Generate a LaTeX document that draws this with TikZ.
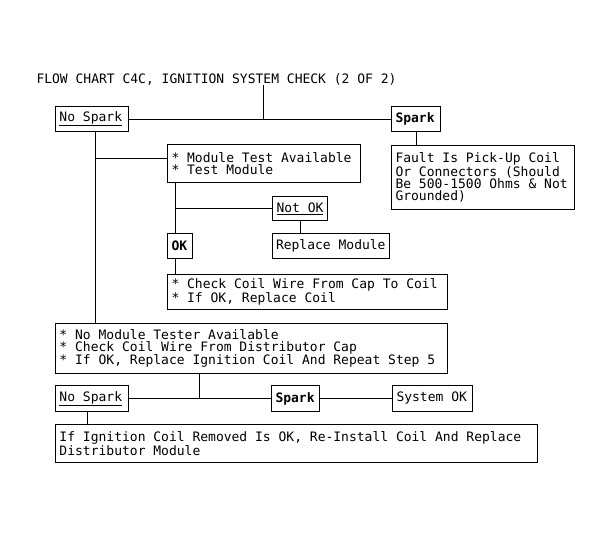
\documentclass[tikz,border=0pt]{standalone}
\usepackage{fontspec}
\setmonofont{DejaVu Sans Mono}
\newcommand{\mylblfont}{\ttfamily\fontsize{13}{12}\selectfont}
\begin{document}
\begin{tikzpicture}[x=1pt,y=-1pt,
  every path/.style={line width=1pt},
  lbl/.style={font=\mylblfont},
  box/.style={draw, lbl, anchor=north west, inner xsep=4pt, inner ysep=0pt, align=flush left}]
\useasboundingbox (0,0) rectangle (614,538);
\node[lbl, anchor=west, inner sep=0pt] (ttl) at (36,79) {FLOW CHART C4C, IGNITION SYSTEM CHECK (2 OF 2)};
\node[box, minimum width=73pt, minimum height=25pt, text width=65pt] (ns1) at (55,106) {\underline{No Spark}};
\node[box, minimum width=49pt, minimum height=25pt, text width=41pt] (sp1) at (391,106) {\textbf{Spark}};
\node[box, minimum width=183pt, minimum height=64pt, text width=175pt] (fault) at (391,145) {Fault Is Pick-Up Coil\\Or Connectors (Should\\Be 500-1500 Ohms \& Not\\Grounded)};
\node[box, minimum width=193pt, minimum height=38pt, text width=185pt] (mt) at (167,144) {* Module Test Available\\{}* Test Module};
\node[box, minimum width=55pt, minimum height=24pt, text width=47pt] (nok) at (272,196) {\underline{Not OK}};
\node[box, minimum width=117pt, minimum height=25pt, text width=110pt, inner xsep=3.5pt] (rm) at (272,233) {\mbox{Replace Module}};
\node[box, minimum width=25pt, minimum height=25pt, text width=17pt] (ok) at (167,233) {\textbf{OK}};
\node[box, minimum width=280pt, minimum height=35pt, text width=272pt] (cc) at (167,274) {* Check Coil Wire From Cap To Coil\\{}* If OK, Replace Coil};
\node[box, minimum width=392pt, minimum height=50pt, text width=384pt] (nmt) at (55,323) {* No Module Tester Available\\{}* Check Coil Wire From Distributor Cap\\{}* If OK, Replace Ignition Coil And Repeat Step 5};
\node[box, minimum width=73pt, minimum height=26pt, text width=65pt] (ns2) at (55,385) {\underline{No Spark}};
\node[box, minimum width=48pt, minimum height=26pt, text width=40pt] (sp2) at (271,385) {\textbf{Spark}};
\node[box, minimum width=80pt, minimum height=26pt, text width=72pt] (sok) at (392,385) {System OK};
\node[box, minimum width=482pt, minimum height=38pt, text width=474pt] (fin) at (55,424) {If Ignition Coil Removed Is OK, Re-Install Coil And Replace\\Distributor Module};
% connectors
\coordinate (tj) at (263,119);
\draw (tj |- ttl.south) -- (tj);
\draw (ns1.east) -- (sp1.west);
\draw (sp1.south) -- (sp1.south |- fault.north);
\coordinate (v1) at ([xshift=3.5pt]ns1.south);
\draw (v1) -- (v1 |- nmt.north);
\coordinate (mtl) at ([yshift=-14pt]mt.north west);
\draw (v1 |- mtl) -- (mtl);
\coordinate (v2) at ([xshift=8pt]mt.south west);
\draw (v2) -- (v2 |- ok.north);
\draw (v2 |- nok.west) -- (nok.west);
\draw (nok.south) -- (nok.south |- rm.north);
\draw (v2 |- ok.south) -- (v2 |- cc.north);
\coordinate (v3) at ([xshift=-52pt]nmt.south);
\draw (v3) -- (v3 |- ns2.east);
\draw (ns2.east) -- (sp2.west);
\draw (sp2.east) -- (sok.west);
\coordinate (v4) at ([xshift=-4.5pt]ns2.south);
\draw (v4) -- (v4 |- fin.north);
\end{tikzpicture}
\end{document}
